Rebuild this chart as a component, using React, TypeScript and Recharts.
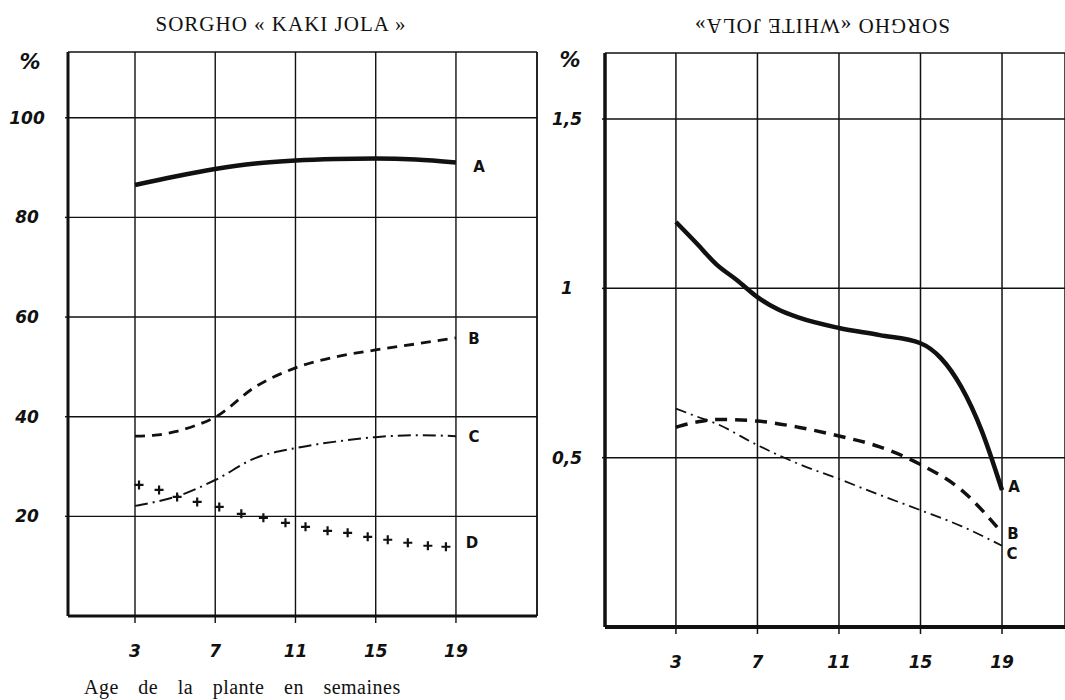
import React from 'react';
import { LineChart, Line, XAxis, YAxis, CartesianGrid, ReferenceLine } from 'recharts';

// weeks shown on both x axes
const X_TICKS = [3, 7, 11, 15, 19];

// left panel: SORGHO « KAKI JOLA », values in %
const LEFT_Y_TICKS = [20, 40, 60, 80, 100];
const LEFT_A_WEEKS = [3, 5, 7, 9, 11, 13, 15, 17, 19];
const LEFT_A = [86.5, 88.2, 89.7, 90.8, 91.4, 91.7, 91.8, 91.6, 91.0];
const LEFT_B_WEEKS = [3, 4, 5, 6, 7, 9, 11, 13, 15, 17, 19];
const LEFT_B = [36.1, 36.3, 37.0, 38.2, 39.9, 46.0, 49.8, 52.0, 53.4, 54.6, 55.8];
const LEFT_C_WEEKS = [3, 4, 5, 7, 9, 11, 13, 15, 17, 19];
const LEFT_C = [22.1, 22.9, 23.9, 27.3, 31.7, 33.7, 35.0, 35.9, 36.3, 36.1];
const LEFT_D_WEEKS = [3.2, 4.2, 5.1, 6.1, 7.2, 8.3, 9.4, 10.5, 11.5, 12.6, 13.6, 14.6, 15.6, 16.6, 17.6, 18.5];
const LEFT_D = [26.3, 25.3, 23.9, 22.9, 21.9, 20.5, 19.7, 18.7, 17.9, 17.1, 16.7, 15.9, 15.3, 14.7, 14.1, 13.9];

// right panel: SORGHO «WHITE JOLA»
const RIGHT_Y_TICKS = [0.5, 1, 1.5];
const RIGHT_Y_LABELS = ['0,5', '1', '1,5'];
const RIGHT_A_WEEKS = [3, 4, 5, 6, 7, 8, 9, 11, 13, 15, 16, 17, 18, 19];
const RIGHT_A = [1.196, 1.134, 1.07, 1.024, 0.974, 0.938, 0.914, 0.883, 0.862, 0.838, 0.794, 0.709, 0.58, 0.404];
const RIGHT_B_WEEKS = [3, 4, 5, 7, 9, 11, 13, 15, 17, 19];
const RIGHT_B = [0.59, 0.605, 0.613, 0.608, 0.59, 0.564, 0.532, 0.48, 0.405, 0.278];
const RIGHT_C_WEEKS = [3, 4, 5, 7, 9, 11, 13, 15, 17, 19];
const RIGHT_C = [0.645, 0.622, 0.6, 0.537, 0.482, 0.437, 0.39, 0.345, 0.298, 0.24];

const INK = '#111';
const HAND = '"DejaVu Sans", sans-serif';
const SERIF = '"Liberation Serif", "DejaVu Serif", serif';

const LEFT_X_DOMAIN = [-0.34, 23.04];
const RIGHT_X_DOMAIN = [-0.48, 22.09];

const toPoints = (weeks: number[], vals: number[]) => weeks.map((w, i) => ({ week: w, v: vals[i] }));

const endLabel = (text: string, count: number, dx: number, dy: number) => (p: any) => {
  if (p.index !== count - 1) return <g key={p.index} />;
  return (
    <text key={p.index} x={p.x + dx} y={p.y + dy} textAnchor="middle" dominantBaseline="central"
      fontFamily={HAND} fontWeight="bold" fontSize={15} fill={INK}>
      {text}
    </text>
  );
};

const plusDot = (p: any) => (
  <path key={p.index} d={`M${p.cx - 4.5},${p.cy}h9M${p.cx},${p.cy - 4.5}v9`} stroke={INK} strokeWidth={2.2} fill="none" />
);

const xTick = (p: any) => (
  <text x={p.x} y={p.y + 28} textAnchor="middle" dominantBaseline="central"
    fontFamily={HAND} fontStyle="italic" fontWeight="bold" fontSize={17} fill={INK}>
    {p.payload.value}
  </text>
);

const yTick = (labels?: string[], ticks?: number[]) => (p: any) => {
  const v = p.payload.value;
  const txt = labels && ticks ? labels[ticks.indexOf(v)] : String(v);
  return (
    <text x={27} y={p.y} textAnchor="middle" dominantBaseline="central"
      fontFamily={HAND} fontStyle="italic" fontWeight="bold" fontSize={17} fill={INK}>
      {txt}
    </text>
  );
};

const pctStyle: React.CSSProperties = {
  position: 'absolute', fontFamily: HAND, fontStyle: 'italic', fontWeight: 'bold',
  fontSize: 21, lineHeight: '21px', color: INK, width: 40, textAlign: 'center',
};

export default function App() {
  return (
    <div style={{ position: 'absolute', left: 0, top: 0, width: 1065, height: 700, background: '#fff', overflow: 'hidden' }}>
      <div style={{ position: 'absolute', left: 0, top: 14, width: 562, textAlign: 'center', fontFamily: SERIF, fontSize: 21, lineHeight: '21px', letterSpacing: 1, color: INK }}>
        SORGHO « KAKI JOLA »
      </div>
      <div style={{ position: 'absolute', left: 622, top: 15, width: 400, textAlign: 'center', fontFamily: SERIF, fontSize: 21, lineHeight: '21px', letterSpacing: 1, color: INK, transform: 'rotate(180deg)' }}>
        SORGHO «WHITE JOLA»
      </div>
      <div style={{ ...pctStyle, left: 10, top: 52 }}>%</div>
      <div style={{ ...pctStyle, left: 550, top: 50 }}>%</div>

      <div style={{ position: 'absolute', left: 0, top: 0 }}>
        <LineChart width={560} height={700} margin={{ top: 52, right: 23, bottom: 44, left: 0 }}>
          <CartesianGrid stroke={INK} strokeWidth={1.4} />
          <XAxis dataKey="week" type="number" domain={LEFT_X_DOMAIN} ticks={X_TICKS} interval={0} allowDataOverflow
            height={40} axisLine={{ stroke: INK, strokeWidth: 3 }} tickLine={{ stroke: INK, strokeWidth: 1.4 }} tickSize={7} tickMargin={0} tick={xTick} />
          <YAxis type="number" domain={[0, 113.2]} ticks={LEFT_Y_TICKS} interval={0} allowDataOverflow width={68}
            axisLine={{ stroke: INK, strokeWidth: 3 }} tickLine={{ stroke: INK, strokeWidth: 1.4 }} tickSize={3} tick={yTick()} />
          <ReferenceLine x={LEFT_X_DOMAIN[1]} stroke={INK} strokeWidth={1.4} />
          <Line data={toPoints(LEFT_A_WEEKS, LEFT_A)} dataKey="v" type="monotone" stroke={INK} strokeWidth={4.5} dot={false} activeDot={false}
            isAnimationActive={false} label={endLabel('A', LEFT_A.length, 23, 4)} />
          <Line data={toPoints(LEFT_B_WEEKS, LEFT_B)} dataKey="v" type="monotone" stroke={INK} strokeWidth={2.8} strokeDasharray="10 7" dot={false} activeDot={false}
            isAnimationActive={false} label={endLabel('B', LEFT_B.length, 18, 1)} />
          <Line data={toPoints(LEFT_C_WEEKS, LEFT_C)} dataKey="v" type="monotone" stroke={INK} strokeWidth={2} strokeDasharray="13 5 2 5" dot={false} activeDot={false}
            isAnimationActive={false} label={endLabel('C', LEFT_C.length, 18, 1)} />
          <Line data={toPoints(LEFT_D_WEEKS, LEFT_D)} dataKey="v" type="monotone" stroke="none" dot={plusDot} activeDot={false}
            isAnimationActive={false} label={endLabel('D', LEFT_D.length, 26, -4)} />
        </LineChart>
      </div>

      <div style={{ position: 'absolute', left: 540, top: 0 }}>
        <LineChart width={525} height={700} margin={{ top: 53, right: 0, bottom: 33, left: 0 }}>
          <CartesianGrid stroke={INK} strokeWidth={1.5} />
          <XAxis dataKey="week" type="number" domain={RIGHT_X_DOMAIN} ticks={X_TICKS} interval={0} allowDataOverflow
            height={40} axisLine={{ stroke: INK, strokeWidth: 4 }} tickLine={{ stroke: INK, strokeWidth: 1.5 }} tickSize={7} tickMargin={0} tick={xTick} />
          <YAxis type="number" domain={[0, 1.695]} ticks={RIGHT_Y_TICKS} interval={0} allowDataOverflow width={65}
            axisLine={{ stroke: INK, strokeWidth: 3.5 }} tickLine={{ stroke: INK, strokeWidth: 1.5 }} tickSize={3} tick={yTick(RIGHT_Y_LABELS, RIGHT_Y_TICKS)} />
          <Line data={toPoints(RIGHT_A_WEEKS, RIGHT_A)} dataKey="v" type="monotone" stroke={INK} strokeWidth={4.5} dot={false} activeDot={false}
            isAnimationActive={false} label={endLabel('A', RIGHT_A.length, 12, -3)} />
          <Line data={toPoints(RIGHT_B_WEEKS, RIGHT_B)} dataKey="v" type="monotone" stroke={INK} strokeWidth={3.5} strokeDasharray="12 8" dot={false} activeDot={false}
            isAnimationActive={false} label={endLabel('B', RIGHT_B.length, 11, 1)} />
          <Line data={toPoints(RIGHT_C_WEEKS, RIGHT_C)} dataKey="v" type="monotone" stroke={INK} strokeWidth={1.8} strokeDasharray="11 5 2 5" dot={false} activeDot={false}
            isAnimationActive={false} label={endLabel('C', RIGHT_C.length, 10, 8)} />
        </LineChart>
      </div>

      <div style={{ position: 'absolute', left: 84, top: 677, fontFamily: SERIF, fontSize: 20, lineHeight: '20px', letterSpacing: 0.5, wordSpacing: 14, color: INK, whiteSpace: 'nowrap' }}>
        Age de la plante en semaines
      </div>
    </div>
  );
}
